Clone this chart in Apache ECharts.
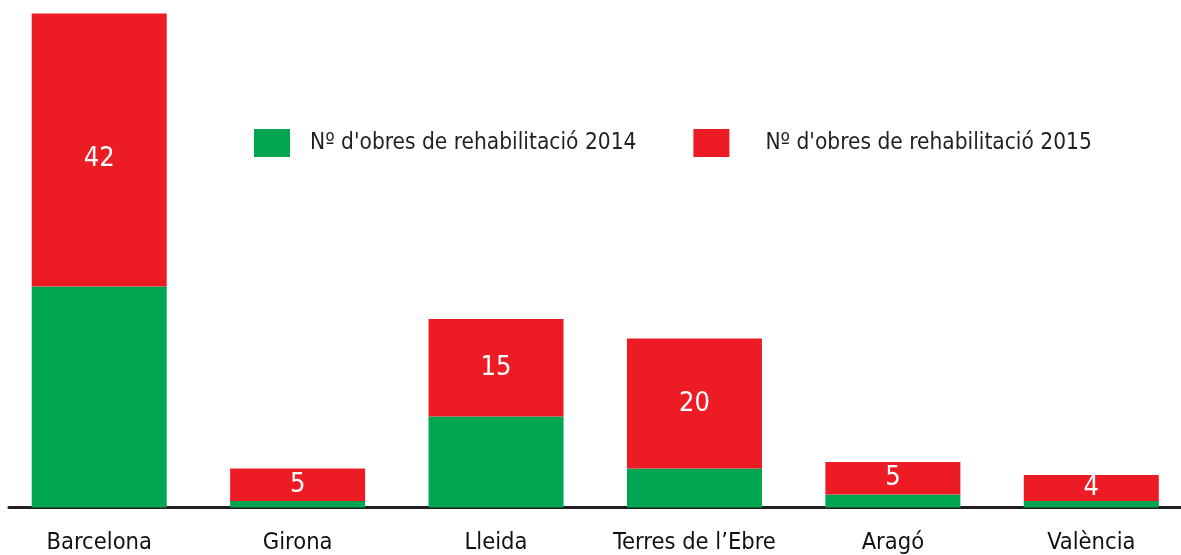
<!DOCTYPE html>
<html>
<head>
<meta charset="utf-8">
<script src="https://cdn.jsdelivr.net/npm/echarts@6/dist/echarts.min.js"></script>
<style>
  html, body { margin: 0; padding: 0; background: #fff; }
  #chart { width: 1181px; height: 555px; }
</style>
</head>
<body>
<div id="chart"></div>
<script>
const categories = ['Barcelona', 'Girona', 'Lleida', 'Terres de l\u2019Ebre', 'Arag\u00f3', 'Val\u00e8ncia']
const obres2014 = [34, 1, 14, 6, 2, 1]
const obres2015 = [42, 5, 15, 20, 5, 4]

const textFont = '"Liberation Sans Narrow", "DejaVu Sans Condensed", sans-serif'
const name2014 = 'N\u00ba d\'obres de rehabilitaci\u00f3 2014'
const name2015 = 'N\u00ba d\'obres de rehabilitaci\u00f3 2015'

const option = {
  animation: false,
  backgroundColor: '#ffffff',
  textStyle: { fontFamily: textFont },
  legend: {
    left: 254,
    top: 129,
    width: 920,
    padding: 0,
    itemWidth: 36,
    itemHeight: 28,
    itemGap: 57,
    icon: 'rect',
    textStyle: { fontSize: 22.5, color: '#231f20', fontFamily: textFont, padding: [0, 0, 0, 15] },
    data: [
      { name: name2014 },
      { name: name2015, textStyle: { padding: [0, 0, 0, 31] } }
    ]
  },
  grid: [
    // bars: the plot runs a little past the right edge of the page
    { left: 0, width: 1190.5, top: 13.5, bottom: 47.5, outerBoundsMode: 'none' },
    // baseline only
    { left: 9, right: 0, top: 13.5, bottom: 47.5, outerBoundsMode: 'none' }
  ],
  xAxis: [
    {
      type: 'category',
      gridIndex: 0,
      data: categories,
      axisLine: { show: false },
      axisTick: { show: false },
      axisLabel: { color: '#111', fontSize: 23.5, fontFamily: textFont, margin: 23, interval: 0 }
    },
    {
      type: 'value',
      gridIndex: 1,
      min: 0,
      max: 1,
      axisLine: { show: true, lineStyle: { color: '#231f20', width: 3 } },
      axisTick: { show: false },
      axisLabel: { show: false },
      splitLine: { show: false }
    }
  ],
  yAxis: [
    { type: 'value', gridIndex: 0, min: 0, max: 76, show: false, splitLine: { show: false } },
    { type: 'value', gridIndex: 1, min: 0, max: 1, show: false, splitLine: { show: false } }
  ],
  series: [
    {
      name: name2014,
      type: 'bar',
      stack: 'total',
      barWidth: 135,
      itemStyle: { color: '#00a651' },
      data: obres2014
    },
    {
      name: name2015,
      type: 'bar',
      stack: 'total',
      barWidth: 135,
      itemStyle: { color: '#ed1c24' },
      label: {
        show: true,
        position: 'inside',
        color: '#fff',
        fontSize: 27,
        fontFamily: textFont
      },
      data: obres2015.map((v, i) => (i === 0 ? { value: v, label: { offset: [0, 9] } } : v))
    }
  ]
}

const chart = echarts.init(document.getElementById('chart'))
chart.setOption(option)
</script>
</body>
</html>
